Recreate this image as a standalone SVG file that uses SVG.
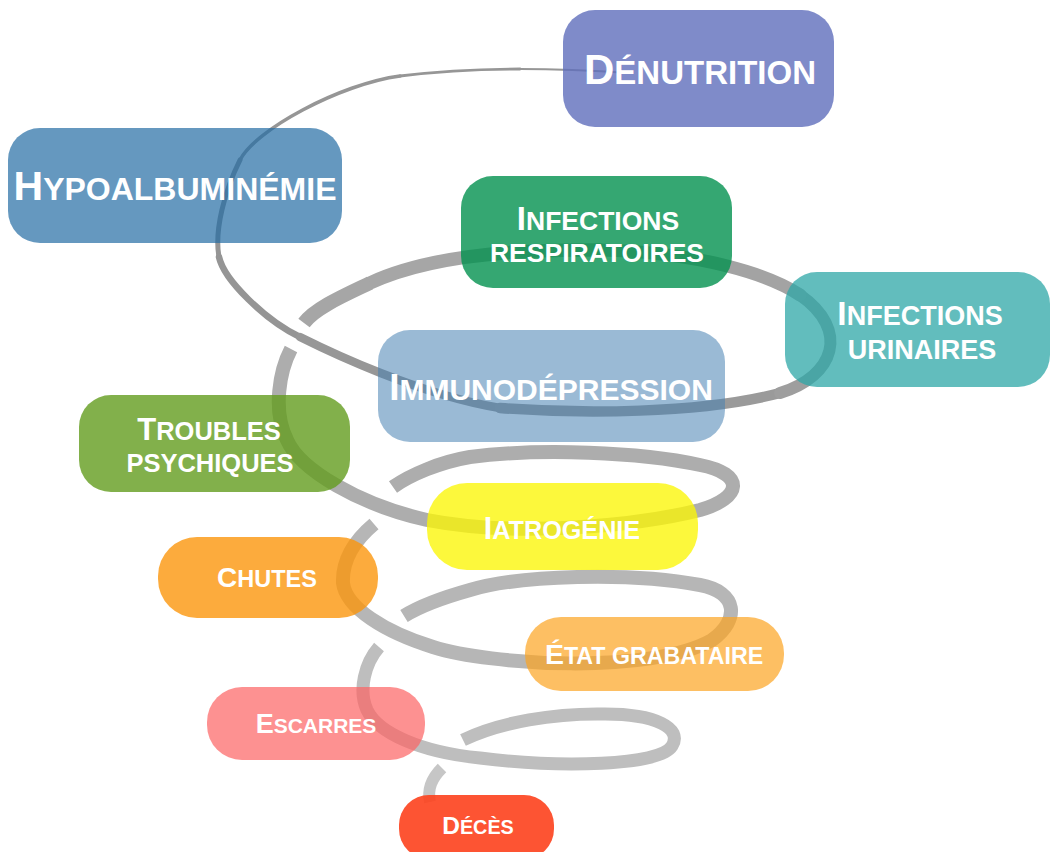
<svg xmlns="http://www.w3.org/2000/svg" width="1051" height="852" viewBox="0 0 1051 852">
<style>
.s{fill:none;stroke-linecap:round}
.b{fill:none;stroke-linecap:butt;stroke-linejoin:round}
.t{font-family:"Liberation Sans",Arial,Helvetica,sans-serif;font-weight:bold;fill:#fff;text-anchor:middle}
</style>
<rect width="1051" height="852" fill="#ffffff"/>
<g id="spiral">
  <path class="s" stroke="#969696" stroke-width="2" d="M630,73 C600,71 560,69 520,69"/>
  <path class="s" stroke="#969696" stroke-width="2.8" d="M520,69 C480,69 440,71 400,76"/>
  <path class="s" stroke="#969696" stroke-width="3.6" d="M400,76 C340,84 255,130 240,160"/>
  <path class="s" stroke="#959595" stroke-width="5" d="M240,160 C225,190 214,230 219,257"/>
  <path class="s" stroke="#959595" stroke-width="6.5" d="M219,257 C224,280 265,320 300,337"/>
  <path class="s" stroke="#979797" stroke-width="8.5" d="M300,337 C330,352 420,395 500,408"/>
  <path class="s" stroke="#9a9a9a" stroke-width="10.5" d="M500,408 C580,414 700,414 780,393"/>
  <path class="s" stroke="#9e9e9e" stroke-width="12" d="M780,393 C835,376 850,330 800,295"/>
  <path class="s" stroke="#a3a3a3" stroke-width="13" d="M800,295 C770,275 700,252 600,250"/>
  <path class="s" stroke="#a6a6a6" stroke-width="13.5" d="M600,250 C520,249 430,255 370,283"/>
  <path class="b" stroke="#a6a6a6" stroke-width="14" d="M370,283 C345,295 315,308 304,323"/>
  <path class="b" stroke="#adadad" stroke-width="14" d="M291,349 C280,370 272,410 287,440 C300,470 360,505 427,520 C520,538 640,525 700,510 C742,498 746,474 700,465 C640,452 540,448 470,457 C440,462 410,475 393,487"/>
  <path class="b" stroke="#b6b6b6" stroke-width="14" d="M374,524 C355,540 342,560 343,583 C346,608 385,632 433,647 C490,665 650,675 712,640 C740,620 738,592 700,585 C630,572 520,575 470,590 C445,597 420,606 404,616"/>
  <path class="b" stroke="#bebebe" stroke-width="13" d="M379,647 C365,663 358,690 367,710 C378,733 420,752 480,758 C560,768 660,766 672,746 C683,728 655,714 605,714 C555,713 500,722 463,740"/>
  <path class="b" stroke="#c6c6c6" stroke-width="12" d="M442,768 C432,778 427,788 430,802"/>
</g>
<g id="denutrition">
  <rect x="563" y="10" width="271" height="117" rx="32" fill="#5f6ebb" fill-opacity="0.8"/>
  <text class="t" x="700" y="84"><tspan font-size="42">D</tspan><tspan font-size="33">ÉNUTRITION</tspan></text>
</g>
<g id="hypoalbuminemie">
  <rect x="8" y="128" width="334" height="115" rx="32" fill="#236ca4" fill-opacity="0.7"/>
  <text class="t" x="175" y="200"><tspan font-size="41">H</tspan><tspan font-size="32">YPOALBUMINÉMIE</tspan></text>
</g>
<g id="infections-respiratoires">
  <rect x="461" y="176" width="271" height="112" rx="32" fill="#02914f" fill-opacity="0.8"/>
  <text class="t" x="598" y="230"><tspan font-size="33">I</tspan><tspan font-size="26.5">NFECTIONS</tspan></text>
  <text class="t" x="597" y="262" font-size="26.5">RESPIRATOIRES</text>
</g>
<g id="infections-urinaires">
  <rect x="785" y="272" width="265" height="115" rx="32" fill="#2ea7a7" fill-opacity="0.75"/>
  <text class="t" x="920" y="325"><tspan font-size="33.5">I</tspan><tspan font-size="27">NFECTIONS</tspan></text>
  <text class="t" x="922" y="359" font-size="27">URINAIRES</text>
</g>
<g id="immunodepression">
  <rect x="378" y="330" width="347" height="112" rx="32" fill="#4781b3" fill-opacity="0.55"/>
  <text class="t" x="551" y="400"><tspan font-size="37">I</tspan><tspan font-size="30">MMUNODÉPRESSION</tspan></text>
</g>
<g id="troubles-psychiques">
  <rect x="79" y="395" width="271" height="97" rx="32" fill="#639c1e" fill-opacity="0.8"/>
  <text class="t" x="209" y="440"><tspan font-size="31">T</tspan><tspan font-size="25.5">ROUBLES</tspan></text>
  <text class="t" x="210" y="472" font-size="25.5">PSYCHIQUES</text>
</g>
<g id="iatrogenie">
  <rect x="427" y="483" width="271" height="87" rx="40" fill="#fbf605" fill-opacity="0.78"/>
  <text class="t" x="562" y="539"><tspan font-size="30.5">I</tspan><tspan font-size="25.2">ATROGÉNIE</tspan></text>
</g>
<g id="chutes">
  <rect x="158" y="537" width="220" height="81" rx="39" fill="#fb960d" fill-opacity="0.8"/>
  <text class="t" x="267" y="587"><tspan font-size="28">C</tspan><tspan font-size="23.5">HUTES</tspan></text>
</g>
<g id="etat-grabataire">
  <rect x="525" y="617" width="259" height="74" rx="36" fill="#fca421" fill-opacity="0.7"/>
  <text class="t" x="654" y="664"><tspan font-size="28.5">É</tspan><tspan font-size="23.2">TAT GRABATAIRE</tspan></text>
</g>
<g id="escarres">
  <rect x="207" y="687" width="218" height="73" rx="35" fill="#fc6363" fill-opacity="0.7"/>
  <text class="t" x="316" y="733"><tspan font-size="27">E</tspan><tspan font-size="21">SCARRES</tspan></text>
</g>
<g id="deces">
  <rect x="399" y="795" width="155" height="64" rx="30" fill="#fd411d" fill-opacity="0.9"/>
  <text class="t" x="478" y="834"><tspan font-size="24.5">D</tspan><tspan font-size="19.8">ÉCÈS</tspan></text>
</g>
</svg>
